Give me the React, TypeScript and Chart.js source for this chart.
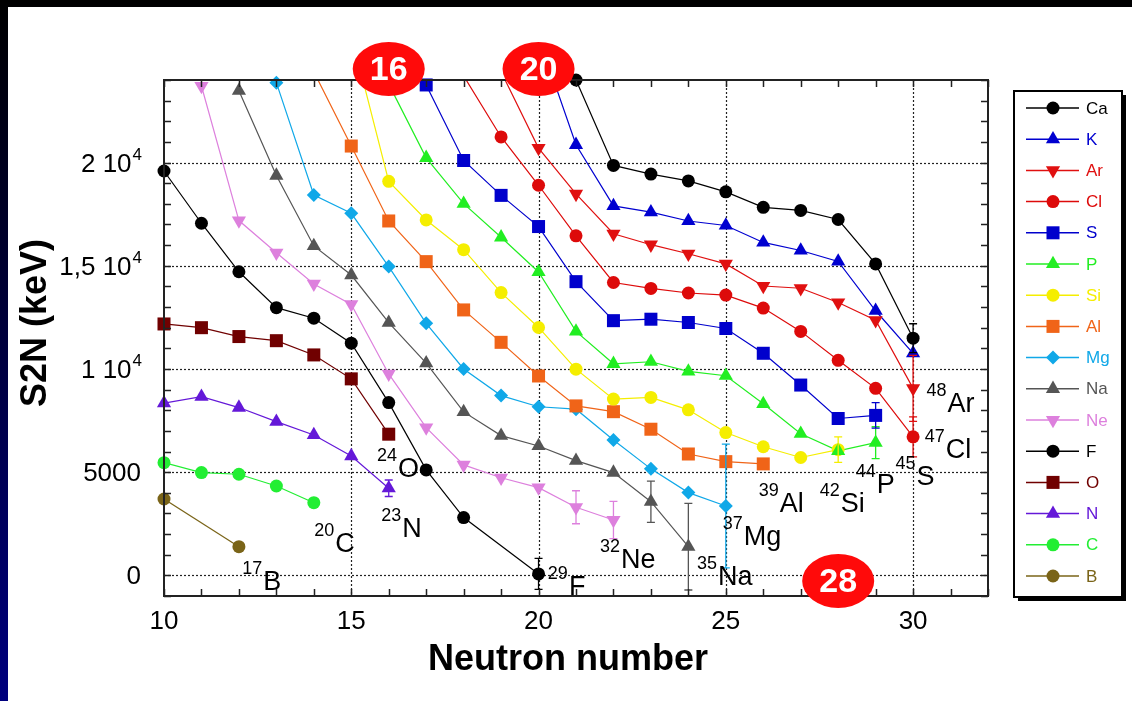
import React, { useEffect, useRef } from 'react';
import { Chart, registerables } from 'chart.js';

Chart.register(...registerables);

// ---- axes ----
const X_MIN = 10;
const X_MAX = 32;
const Y_MIN = -1000;
const Y_MAX = 24000;
const xTickValues = [10, 15, 20, 25, 30];
const xTickLabels = ['10', '15', '20', '25', '30'];
const yTickValues = [0, 5000, 10000, 15000, 20000];
const yTickMain = ['0', '5000', '1 10', '1,5 10', '2 10'];
const yTickSup = ['', '', '4', '4', '4'];

// ---- series: S2N (keV), first value at the series' first neutron number ----
const elements = ['Ca', 'K', 'Ar', 'Cl', 'S', 'P', 'Si', 'Al', 'Mg', 'Na', 'Ne', 'F', 'O', 'N', 'C', 'B'];
const firstNeutron = [21, 20, 19, 18, 17, 16, 15, 14, 13, 12, 11, 10, 10, 10, 10, 10];
const caS2N = [24000, 19860, 19440, 19110, 18580, 17830, 17680, 17240, 15090, 11490];
const kS2N = [26100, 20860, 17900, 17600, 17170, 16950, 16130, 15740, 15210, 12820, 10760];
const arS2N = [24400, 20700, 18480, 16550, 16020, 15580, 15090, 14020, 13910, 13220, 12360, 9060];
const clS2N = [24200, 21240, 18900, 16450, 14190, 13900, 13680, 13580, 12950, 11820, 10420, 9060, 6710];
const sS2N = [23760, 20100, 18410, 16900, 14230, 12340, 12410, 12250, 11960, 10760, 9220, 7600, 7750];
const pS2N = [23800, 20230, 18010, 16380, 14700, 11820, 10250, 10350, 9880, 9670, 8310, 6860, 6030, 6430];
const siS2N = [26200, 19090, 17220, 15780, 13700, 12010, 9990, 8540, 8620, 8020, 6920, 6230, 5710, 6090];
const alS2N = [24400, 20800, 17170, 15200, 12860, 11290, 9660, 8210, 7930, 7080, 5880, 5510, 5400];
const mgS2N = [23870, 18430, 17540, 14960, 12210, 10000, 8710, 8170, 8050, 6560, 5160, 4010, 3360];
const naS2N = [23480, 19370, 15960, 14550, 12240, 10280, 7920, 6770, 6270, 5560, 4980, 3570, 1390];
const neS2N = [23710, 17190, 15630, 14120, 13130, 9760, 7160, 5350, 4730, 4250, 3300, 2680];
const fS2N = [19590, 17060, 14710, 12970, 12460, 11250, 8370, 5110, 2800, null, 70];
const oS2N = [12180, 12000, 11570, 11370, 10680, 9520, 6840];
const nS2N = [8340, 8660, 8130, 7450, 6800, 5780, 4220];
const cS2N = [5460, 4980, 4900, 4330, 3520];
const bS2N = [3700, null, 1390];
const seriesValues = [caS2N, kS2N, arS2N, clS2N, sS2N, pS2N, siS2N, alS2N, mgS2N, naS2N, neS2N, fS2N, oS2N, nS2N, cS2N, bS2N];

// ---- error bars ----
const errElement = ['F', 'Ne', 'Ne', 'Na', 'Na', 'Mg', 'N', 'Si', 'P', 'S', 'Cl', 'Ar', 'Ca'];
const errNeutron = [20, 21, 22, 23, 24, 25, 16, 28, 29, 29, 30, 30, 30];
const errSize = [750, 800, 900, 1000, 2100, 3000, 400, 620, 770, 620, 970, 1600, 700];

// ---- drip-line nuclide labels (anchor in data units) ----
const nuclideMass = ['17', '20', '24', '23', '29', '32', '35', '37', '39', '42', '44', '45', '47', '48'];
const nuclideSymbol = ['B', 'C', 'O', 'N', 'F', 'Ne', 'Na', 'Mg', 'Al', 'Si', 'P', 'S', 'Cl', 'Ar'];
const nuclideAtN = [12.65, 14.57, 16.25, 16.36, 20.81, 22.2, 24.79, 25.48, 26.44, 28.07, 29.03, 30.09, 30.87, 30.92];
const nuclideAtS2N = [-700, 1130, 4770, 1860, -950, 360, -465, 1470, 3070, 3070, 3990, 4380, 5690, 7920];

// ---- magic numbers ----
const magicNumbers = [16, 20, 28];
const magicAtTop = [true, true, false];

// ---- styles ----
const seriesColors = ['#000000', '#0000d0', '#e01010', '#dd0a0a', '#0000cc', '#22ee22', '#f5ee00', '#f06418', '#10a8e8', '#555555', '#dd80dd', '#000000', '#700000', '#6418d8', '#22ee33', '#7a6418'];
const seriesMarkers = ['circle', 'triangle', 'triangleDown', 'circle', 'rect', 'triangle', 'circle', 'rect', 'rectRot', 'triangle', 'triangleDown', 'circle', 'rect', 'triangle', 'circle', 'circle'];

const FONT = '"Liberation Sans", Arial, Helvetica, sans-serif';

function markerRadius(m: string) {
  if (m === 'circle') return 6.5;
  if (m === 'rect') return 9.2;
  if (m === 'rectRot') return 7;
  return 8.2;
}

function drawMarker(ctx: CanvasRenderingContext2D, m: string, x: number, y: number, color: string) {
  const r = markerRadius(m);
  ctx.fillStyle = color;
  ctx.beginPath();
  if (m === 'circle') {
    ctx.arc(x, y, r, 0, Math.PI * 2);
  } else if (m === 'rect') {
    const s = r * Math.SQRT1_2;
    ctx.rect(x - s, y - s, 2 * s, 2 * s);
  } else if (m === 'rectRot') {
    ctx.moveTo(x - r, y); ctx.lineTo(x, y - r); ctx.lineTo(x + r, y); ctx.lineTo(x, y + r); ctx.closePath();
  } else {
    const dir = m === 'triangleDown' ? -1 : 1;
    const w = r * Math.sqrt(3) / 2;
    ctx.moveTo(x, y - dir * r);
    ctx.lineTo(x + w, y + dir * r / 2);
    ctx.lineTo(x - w, y + dir * r / 2);
    ctx.closePath();
  }
  ctx.fill();
}

function buildPoints(start: number, values: (number | null)[]) {
  const pts: { x: number; y: number }[] = [];
  values.forEach((v, i) => { if (v !== null) pts.push({ x: start + i, y: v }); });
  return pts;
}

function drawSupText(ctx: CanvasRenderingContext2D, sup: string, main: string, left: number, baseline: number, mainSize: number, supSize: number, color: string) {
  ctx.fillStyle = color;
  ctx.textBaseline = 'alphabetic';
  ctx.font = `${supSize}px ${FONT}`;
  ctx.textAlign = 'right';
  ctx.fillText(sup, left - 1, baseline - mainSize * 0.58);
  ctx.font = `${mainSize}px ${FONT}`;
  ctx.textAlign = 'left';
  ctx.fillText(main, left, baseline);
}

const overlayPlugin = {
  id: 'overlay',
  beforeDatasetsDraw(chart: any) {
    const { ctx, chartArea: a, scales } = chart;
    const xs = scales.x, ys = scales.y;
    ctx.save();
    ctx.strokeStyle = '#222';
    ctx.lineWidth = 1.2;
    ctx.setLineDash([2, 2]);
    yTickValues.forEach((v) => {
      const y = Math.round(ys.getPixelForValue(v)) + 0.5;
      ctx.beginPath(); ctx.moveTo(a.left, y); ctx.lineTo(a.right, y); ctx.stroke();
    });
    xTickValues.forEach((v) => {
      if (v === X_MIN) return;
      const x = Math.round(xs.getPixelForValue(v)) + 0.5;
      ctx.beginPath(); ctx.moveTo(x, a.top); ctx.lineTo(x, a.bottom); ctx.stroke();
    });
    ctx.restore();
  },
  afterDatasetsDraw(chart: any) {
    const { ctx, chartArea: a, scales } = chart;
    const xs = scales.x, ys = scales.y;
    ctx.save();
    // error bars
    ctx.setLineDash([]);
    ctx.lineWidth = 1.3;
    errElement.forEach((el, i) => {
      const idx = elements.indexOf(el);
      const x = xs.getPixelForValue(errNeutron[i]);
      const yc = seriesValues[idx][errNeutron[i] - firstNeutron[idx]] as number;
      const y1 = ys.getPixelForValue(yc + errSize[i]);
      const y2 = ys.getPixelForValue(yc - errSize[i]);
      ctx.strokeStyle = seriesColors[idx];
      ctx.beginPath();
      ctx.moveTo(x, y1); ctx.lineTo(x, y2);
      ctx.moveTo(x - 4, y1); ctx.lineTo(x + 4, y1);
      ctx.moveTo(x - 4, y2); ctx.lineTo(x + 4, y2);
      ctx.stroke();
    });

    // frame
    ctx.strokeStyle = '#222';
    ctx.lineWidth = 2;
    ctx.strokeRect(a.left, a.top, a.right - a.left, a.bottom - a.top);
    // ticks
    ctx.lineWidth = 1.5;
    ctx.beginPath();
    for (let n = X_MIN; n <= X_MAX; n++) {
      const x = Math.round(xs.getPixelForValue(n)) + 0.5;
      ctx.moveTo(x, a.bottom); ctx.lineTo(x, a.bottom - 7);
      ctx.moveTo(x, a.top); ctx.lineTo(x, a.top + 7);
    }
    for (let v = Y_MIN; v <= Y_MAX; v += 1000) {
      const y = Math.round(ys.getPixelForValue(v)) + 0.5;
      ctx.moveTo(a.left, y); ctx.lineTo(a.left + 7, y);
      ctx.moveTo(a.right, y); ctx.lineTo(a.right - 7, y);
    }
    ctx.stroke();

    // tick labels
    ctx.fillStyle = '#000';
    ctx.font = `26px ${FONT}`;
    ctx.textAlign = 'center';
    ctx.textBaseline = 'top';
    xTickValues.forEach((v, i) => {
      ctx.fillText(xTickLabels[i], xs.getPixelForValue(v), a.bottom + 13);
    });
    yTickValues.forEach((v, i) => {
      const y = ys.getPixelForValue(v);
      const right = a.left - 22;
      ctx.textBaseline = 'alphabetic';
      let supW = 0;
      if (yTickSup[i]) {
        ctx.font = `17px ${FONT}`;
        supW = ctx.measureText(yTickSup[i]).width;
        ctx.textAlign = 'left';
        ctx.fillText(yTickSup[i], right - supW, y - 3);
      }
      ctx.font = `26px ${FONT}`;
      ctx.textAlign = 'right';
      ctx.fillText(yTickMain[i], right - supW - 1, y + 9);
    });

    // axis titles
    ctx.font = `bold 36px ${FONT}`;
    ctx.textAlign = 'center';
    ctx.textBaseline = 'alphabetic';
    ctx.fillText('Neutron number', 568, 670);
    ctx.save();
    ctx.translate(46, 323);
    ctx.rotate(-Math.PI / 2);
    ctx.fillText('S2N (keV)', 0, 0);
    ctx.restore();

    // nuclide labels
    nuclideSymbol.forEach((sym, i) => {
      drawSupText(ctx, nuclideMass[i], sym, xs.getPixelForValue(nuclideAtN[i]), ys.getPixelForValue(nuclideAtS2N[i]), 27, 18, '#000');
    });

    // legend
    const lx = 1014, ly = 91, lw = 108, lh = 506;
    ctx.fillStyle = '#000';
    ctx.fillRect(lx + 4, ly + 4, lw, lh);
    ctx.fillStyle = '#fff';
    ctx.fillRect(lx, ly, lw, lh);
    ctx.strokeStyle = '#000';
    ctx.lineWidth = 2;
    ctx.strokeRect(lx, ly, lw, lh);
    elements.forEach((el, i) => {
      const y = ly + 17 + i * 31.2;
      ctx.strokeStyle = seriesColors[i];
      ctx.lineWidth = 1.5;
      ctx.beginPath(); ctx.moveTo(lx + 12, y); ctx.lineTo(lx + 65, y); ctx.stroke();
      drawMarker(ctx, seriesMarkers[i], lx + 39, y, seriesColors[i]);
      ctx.fillStyle = seriesColors[i];
      ctx.font = `17px ${FONT}`;
      ctx.textAlign = 'left';
      ctx.textBaseline = 'middle';
      ctx.fillText(el, lx + 72, y + 1);
    });

    // magic-number bubbles
    magicNumbers.forEach((m, i) => {
      const cx = xs.getPixelForValue(m);
      const cy = magicAtTop[i] ? a.top - 11 : a.bottom - 15;
      ctx.fillStyle = '#ff0a0a';
      ctx.beginPath();
      ctx.ellipse(cx, cy, 36, 27, 0, 0, Math.PI * 2);
      ctx.fill();
      ctx.fillStyle = '#fff';
      ctx.font = `bold 34px ${FONT}`;
      ctx.textAlign = 'center';
      ctx.textBaseline = 'middle';
      ctx.fillText(String(m), cx, cy + 2);
    });
    ctx.restore();
  },
};

export default function App() {
  const ref = useRef<HTMLCanvasElement | null>(null);
  useEffect(() => {
    if (!ref.current) return;
    const datasets: any[] = [];
    elements.forEach((el, i) => {
      const pts = buildPoints(firstNeutron[i], seriesValues[i]);
      const m = seriesMarkers[i];
      datasets.push({
        label: el,
        data: pts,
        showLine: true,
        borderColor: seriesColors[i],
        borderWidth: 1.2,
        pointRadius: 0,
        clip: 0,
        order: 1,
      });
      datasets.push({
        label: el + ' markers',
        data: pts.filter((p) => p.y <= Y_MAX),
        showLine: false,
        pointStyle: m === 'triangleDown' ? 'triangle' : m,
        pointRotation: m === 'triangleDown' ? 180 : 0,
        pointRadius: markerRadius(m),
        pointBackgroundColor: seriesColors[i],
        pointBorderColor: seriesColors[i],
        pointBorderWidth: 0,
        clip: false,
        order: 0,
      });
    });
    const chart = new Chart(ref.current, {
      type: 'scatter',
      data: { datasets },
      options: {
        responsive: false,
        animation: false,
        devicePixelRatio: 1,
        layout: { padding: { left: 164, right: 144, top: 80, bottom: 105 } },
        plugins: { legend: { display: false }, tooltip: { enabled: false } },
        scales: {
          x: { type: 'linear', min: X_MIN, max: X_MAX, display: false },
          y: { type: 'linear', min: Y_MIN, max: Y_MAX, display: false },
        },
      },
      plugins: [overlayPlugin],
    } as any);
    return () => chart.destroy();
  }, []);

  return (
    <div style={{ position: 'fixed', left: 0, top: 0, width: 1132, height: 701, background: 'linear-gradient(#000000, #00007e)', overflow: 'hidden' }}>
      <div style={{ position: 'absolute', left: 8, top: 7, right: 0, bottom: 0, background: '#ffffff' }} />
      <canvas ref={ref} width={1132} height={701} style={{ position: 'absolute', left: 0, top: 0, width: 1132, height: 701 }} />
    </div>
  );
}
